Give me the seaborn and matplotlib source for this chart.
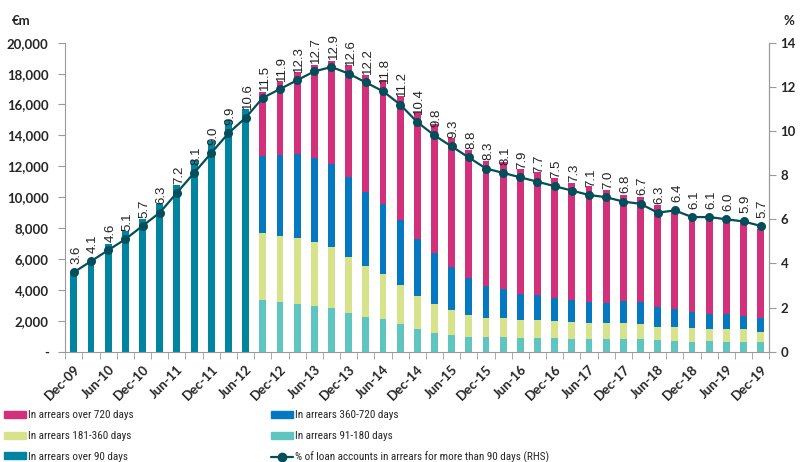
import numpy as np
import matplotlib
matplotlib.use('Agg')
import matplotlib.pyplot as plt
from matplotlib import font_manager
from matplotlib.patches import Patch
from matplotlib.lines import Line2D
from matplotlib.ticker import FuncFormatter, MultipleLocator
import seaborn as sns

quarters = ['Dec-09', 'Mar-10', 'Jun-10', 'Sep-10', 'Dec-10', 'Mar-11', 'Jun-11',
            'Sep-11', 'Dec-11', 'Mar-12', 'Jun-12', 'Sep-12', 'Dec-12', 'Mar-13',
            'Jun-13', 'Sep-13', 'Dec-13', 'Mar-14', 'Jun-14', 'Sep-14', 'Dec-14',
            'Mar-15', 'Jun-15', 'Sep-15', 'Dec-15', 'Mar-16', 'Jun-16', 'Sep-16',
            'Dec-16', 'Mar-17', 'Jun-17', 'Sep-17', 'Dec-17', 'Mar-18', 'Jun-18',
            'Sep-18', 'Dec-18', 'Mar-19', 'Jun-19', 'Sep-19', 'Dec-19']

# EUR m, only the >90 day total is available up to Jun-12
over_90 = [5100, 5900, 6970, 7790, 8610, 9560, 10810, 12410, 13660, 15000, 15730]

# split by time in arrears from Sep-12 on, EUR m
d91_180 = [3350, 3220, 3090, 2960, 2830, 2490, 2220, 2100, 1770, 1450, 1230, 1080,
           970, 970, 960, 890, 890, 890, 820, 820, 820, 820, 840, 780, 710, 650,
           710, 650, 650, 650]
d181_360 = [4330, 4250, 4250, 4120, 3930, 3660, 3350, 2930, 2550, 2150, 1860, 1620,
            1390, 1190, 1200, 1140, 1140, 1080, 1080, 1020, 1020, 1020, 950, 840,
            870, 870, 740, 800, 800, 640]
d360_720 = [4990, 5240, 5440, 5440, 5370, 5140, 4790, 4530, 4200, 3680, 3280, 2800,
            2430, 2110, 1900, 1720, 1620, 1530, 1450, 1380, 1290, 1420, 1430, 1270,
            1160, 1030, 970, 970, 840, 870]
d720 = [4160, 4790, 5320, 6040, 6690, 7260, 7540, 8030, 8050, 8250, 8390, 8330,
        8270, 8070, 8190, 8100, 8000, 7740, 7570, 7520, 7340, 6900, 6790, 6610,
        6320, 6190, 6210, 6170, 6020, 5780]

# % of loan accounts in arrears > 90 days (RHS)
pct_accounts = [3.6, 4.1, 4.6, 5.1, 5.7, 6.3, 7.2, 8.1, 9.0, 9.9, 10.6, 11.5, 11.9,
                12.3, 12.7, 12.9, 12.6, 12.2, 11.8, 11.2, 10.4, 9.8, 9.3, 8.8, 8.3,
                8.1, 7.9, 7.7, 7.5, 7.3, 7.1, 7.0, 6.8, 6.7, 6.3, 6.4, 6.1, 6.1, 6.0,
                5.9, 5.7]

C_720 = '#D3307B'
C_360 = '#0479C2'
C_181 = '#D6E38B'
C_91 = '#5FC5C1'
C_90 = '#00849F'
C_LINE = '#024F5B'
GREY = '#9a9a9a'


def narrow_font():
    # legend text in the original is set in a condensed face
    for name in ['Roboto Condensed', 'Liberation Sans Narrow', 'Open Sans Condensed']:
        try:
            font_manager.findfont(font_manager.FontProperties(family=name),
                                  fallback_to_default=False)
            return {'family': name, 'size': 8}
        except ValueError:
            pass
    return {'family': 'Lato', 'size': 7.3}


sns.set_style('white')
plt.rcParams['font.family'] = ['Lato', 'DejaVu Sans']

fig = plt.figure(figsize=(8.01, 4.62), dpi=100)
ax = fig.add_axes([65.3 / 801, 1 - 351.7 / 462, 704 / 801, 309 / 462])

pos = np.arange(len(quarters))
pos_pre = pos[:len(over_90)]
pos_post = pos[len(over_90):]

# stacked bars drawn as overlapping cumulative totals, tallest first
layers = np.cumsum([d91_180, d181_360, d360_720, d720], axis=0)
for cum, col in reversed(list(zip(layers, [C_91, C_181, C_360, C_720]))):
    sns.barplot(x=pos_post, y=cum, native_scale=True, width=0.4, color=col,
                saturation=1, linewidth=0, errorbar=None, ax=ax)
sns.barplot(x=pos_pre, y=over_90, native_scale=True, width=0.4, color=C_90,
            saturation=1, linewidth=0, errorbar=None, ax=ax)

ax.set_xlim(-0.45, 40.48)
ax.set_ylim(0, 20000)
ax.set_xlabel('')
ax.set_ylabel('')
ax.yaxis.set_major_locator(MultipleLocator(2000))
ax.yaxis.set_major_formatter(FuncFormatter(lambda v, p: '-' if v == 0 else f'{v:,.0f}'))
ax.set_xticks(pos[::2])
ax.set_xticklabels(quarters[::2], rotation=45, ha='right', va='top',
                   rotation_mode='anchor')
ax.set_xticks(np.arange(-0.5, 41, 1), minor=True)
ax.tick_params(axis='x', which='major', bottom=True, length=0, pad=8, labelsize=9.5)
ax.tick_params(axis='x', which='minor', bottom=True, length=5, color=GREY)
ax.tick_params(axis='y', left=True, length=5, color=GREY, pad=7, labelsize=9.5)
for lbl in ax.get_xticklabels() + ax.get_yticklabels():
    lbl.set_fontweight('bold')
ax.spines['top'].set_visible(False)
for s in ['left', 'bottom', 'right']:
    ax.spines[s].set_color(GREY)

ax2 = ax.twinx()
sns.lineplot(x=pos, y=pct_accounts, ax=ax2, color=C_LINE, marker='o', markersize=6.5,
             markeredgewidth=0, linewidth=1.6)
ax2.set_ylim(0, 14)
ax2.set_ylabel('')
ax2.yaxis.set_major_locator(MultipleLocator(2))
ax2.tick_params(axis='y', right=True, length=5, color=GREY, pad=3, labelsize=9.5)
for lbl in ax2.get_yticklabels():
    lbl.set_fontweight('bold')
ax2.spines['top'].set_visible(False)
ax2.spines['right'].set_color(GREY)
ax2.spines['left'].set_visible(False)
ax2.spines['bottom'].set_visible(False)

for x, v in zip(pos, pct_accounts):
    ax2.annotate(f'{v:.1f}', (x, v), xytext=(1.5, 6), textcoords='offset points',
                 rotation=90, ha='center', va='bottom', fontsize=9.5, color='#222222',
                 family='Liberation Sans')

fig.text(12 / 801, 1 - 21 / 462, '€m', fontsize=9.5, fontweight='bold', va='center')
fig.text(783 / 801, 1 - 21 / 462, '%', fontsize=9.5, fontweight='bold', va='center')

leg_kw = dict(loc='upper left', frameon=False, handlelength=1.95, handleheight=0.6,
              handletextpad=0.2, labelspacing=0.95, borderpad=0, borderaxespad=0,
              prop=narrow_font())
fig.legend([Patch(color=C_720), Patch(color=C_181), Patch(color=C_90)],
           ['In arrears over 720 days', 'In arrears 181-360 days',
            'In arrears over 90 days'],
           bbox_to_anchor=(4 / 801, 1 - 410.5 / 462), **leg_kw)
fig.legend([Patch(color=C_360), Patch(color=C_91),
            Line2D([], [], color=C_LINE, marker='o', markersize=6, lw=1.6)],
           ['In arrears 360-720 days', 'In arrears 91-180 days',
            '% of loan accounts in arrears for more than 90 days (RHS)'],
           bbox_to_anchor=(271 / 801, 1 - 410.5 / 462), **leg_kw)

fig.savefig('out.png', dpi=100)
